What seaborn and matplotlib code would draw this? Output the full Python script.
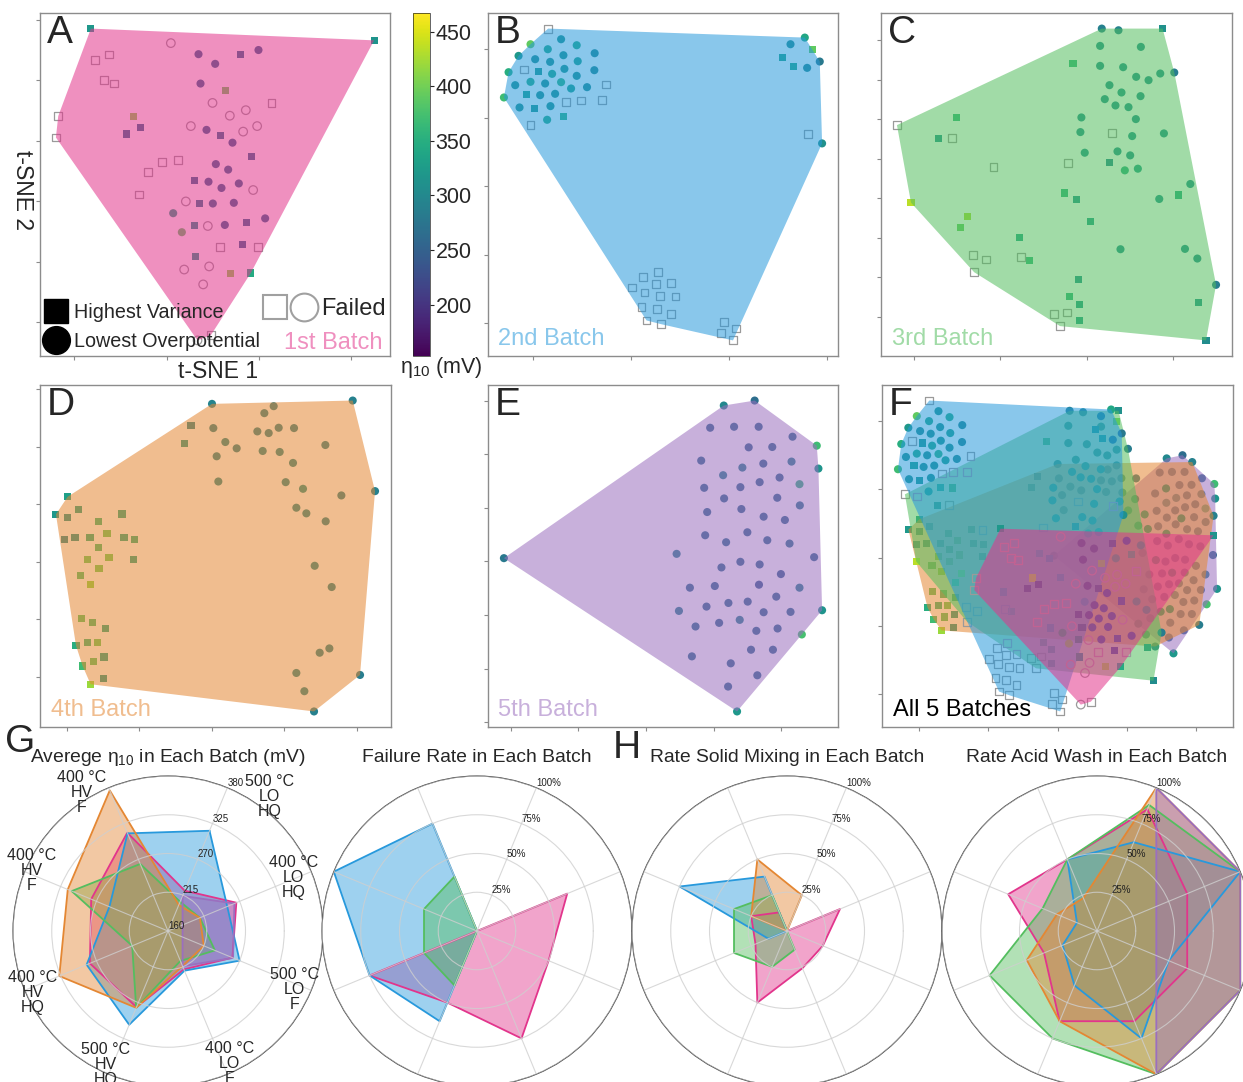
import numpy as np
import pandas as pd
import matplotlib
matplotlib.use("Agg")
import matplotlib as mpl
import matplotlib.pyplot as plt
import seaborn as sns
from matplotlib.lines import Line2D
from matplotlib.legend_handler import HandlerTuple
from matplotlib.colors import Normalize

nan = float("nan")

# ------------------------------------------------------------------ data
BATCH_NAMES = ["1st Batch", "2nd Batch", "3rd Batch", "4th Batch", "5th Batch"]
BATCH_COLORS = ["#e2358c", "#2899dc", "#54be5f", "#e48733", "#9b6fbf"]

# t-SNE extent covered by each batch (from panel F)
TSNE1_RANGE = [(-24, 45), (-46, 19), (-44, 30), (-43, 45), (-1, 46)]
TSNE2_RANGE = [(-43, 8.5), (-45, 46), (-36, 43), (-26, 28), (-28, 30)]

# positions read from panels A-E (picture units, y downwards)
# kind: s = highest variance, o = lowest overpotential, S / O = failed
B1_X = [275,1125,515,598,648,778,723,288,330,315,345,604,678,640,817,692,740,177,170,402,
        425,383,575,732,774,622,700,665,756,488,537,447,420,650,687,586,628,667,719,762,
        560,600,641,704,522,798,586,626,677,742,548,663,777,730,590,555,630,694,755,612,635,595]
B1_Y = [88,122,130,162,190,150,162,180,163,237,247,247,268,303,303,340,324,341,403,341,
        373,393,370,386,370,381,418,397,459,475,468,502,568,480,496,527,531,549,536,555,
        588,593,594,592,622,637,657,659,656,650,677,719,720,713,746,785,776,796,795,828,975,990]
B1_KIND = "ssOooosSSSSosOSOOSSsssOOOoossSSSSoosoooOOsoooosOosoSSssOOssOSO"
B1_ETA = [320,315,nan,262,265,258,270,nan,nan,nan,nan,262,395,nan,nan,nan,nan,nan,nan,410,
          268,270,nan,nan,nan,262,258,272,266,nan,nan,nan,nan,262,265,268,260,262,265,nan,
          nan,285,270,262,340,262,320,nan,262,268,385,nan,nan,262,330,nan,nan,410,345,nan,nan,nan]

B2_X = [181,220,128,267,180,92,142,227,321,187,270,108,153,62,230,193,320,128,172,220,
        267,82,356,250,298,116,157,202,48,236,280,342,95,140,188,128,178,228,953,910,
        975,885,998,918,960,962,1005,512,467,434,505,551,471,518,564,462,508,551,477,520,
        709,746,702,737]
B2_Y = [50,82,97,100,112,132,142,130,124,150,148,173,178,181,171,186,175,210,215,211,
        192,220,218,230,226,247,250,246,257,270,266,265,287,290,283,339,324,313,77,97,
        114,137,149,165,168,368,395,781,797,828,818,815,843,853,855,887,893,908,927,938,
        932,951,965,987]
B2_KIND = "Sooooooooo" + "oSsooooooo" + "ooSoosoooS" + "SSosoSosoo" + "ssosoSo" + "S" * 17
B2_ETA = [nan,315,390,345,340,320,305,315,300,310,330,nan,320,350,318,340,300,345,310,355,
          310,310,nan,330,305,330,310,310,370,nan,nan,nan,310,320,315,nan,345,355,340,305,
          390,335,280,340,300,nan,310] + [nan] * 17

B3_X = [668,718,850,663,785,582,663,732,771,808,843,885,691,727,784,677,709,748,607,770,
        55,233,178,220,604,699,759,854,617,715,753,690,737,776,344,568,933,557,593,899,
        840,97,267,244,635,421,724,917,954,283,322,426,453,286,598,1010,571,601,958,524,
        563,601,543,980]
B3_Y = [50,55,50,102,105,155,162,166,195,205,185,182,220,242,253,262,281,286,317,322,
        340,318,380,378,361,365,373,365,423,419,431,452,476,471,465,455,517,544,563,550,
        562,573,615,647,629,679,713,712,741,731,744,737,746,782,804,820,855,879,873,908,
        903,928,944,987]
B3_KIND = "oosoosoooo" + "oooooooooo" + "SssSoSoooo" + "osooSSosss" + "osssssoooS" + "SSsSsosssS" + "SsSs"
B3_ETA = [290,295,310,310,310,360,310,310,310,310,310,285,310,315,310,310,310,310,310,310,
          nan,360,315,nan,310,nan,315,310,315,310,310,300,350,330,nan,nan,310,355,315,345,
          315,435,425,390,330,340,310,310,305,nan,nan,nan,360,nan,315,285,355,325,315,nan,
          nan,330,nan,305]

B4_X = [516,938,701,673,453,520,652,686,716,762,433,556,590,668,719,856,530,759,535,737,
        789,904,1005,83,48,115,83,246,175,769,799,857,73,105,150,201,252,284,176,207,
        143,281,177,122,152,824,875,125,158,196,108,142,172,160,192,128,839,868,190,152,
        769,960,793,822]
B4_Y = [55,45,62,83,120,128,138,143,127,128,175,170,189,197,200,179,213,233,289,291,
        311,331,318,335,388,372,397,387,410,368,385,409,463,459,457,445,459,463,489,517,
        523,523,551,572,600,543,607,703,715,731,783,775,775,832,818,845,805,792,883,900,
        866,872,921,982]
B4_KIND = "oooo" + "s" + "ooooo" + "s" + "o" * 12 + "s" * 6 + "ooo" + "s" * 13 + "oo" + "s" * 9 + "oo" + "ss" + "oooo"
B4_ETA = [295,290,290,290,295,290,290,290,290,290,320,300,290,300,300,290,295,300,300,300,
          310,290,290,330,320,330,310,340,360,300,300,295,300,310,350,390,340,350,370,395,
          390,335,395,375,410,300,295,380,370,340,350,360,390,380,330,370,295,295,320,420,
          300,285,300,290]

B5_X = [712,805,671,743,817,919,992,787,858,644,768,831,916,997,710,880,940,653,762,820,
        713,873,941,662,765,832,896,656,783,719,843,910,50,570,984,705,762,820,884,610,
        685,818,940,870,577,660,726,784,832,913,1008,627,698,760,810,874,947,794,860,616,
        733,813,725,752]
B5_Y = [60,45,127,124,124,154,181,186,185,226,247,235,229,250,270,277,297,308,306,291,
        340,338,361,381,372,395,405,451,442,472,466,476,520,507,517,548,531,539,568,609,
        604,600,609,636,679,666,655,651,683,682,677,726,715,706,739,732,750,796,796,816,
        837,873,907,982]
B5_KIND = "o" * 64
B5_ETA = [300,265,260,262,260,265,370,258,262,265,290,262,290,315,295,262,355,265,262,262,
          265,262,280,265,262,262,262,265,262,270,265,275,280,290,262,265,262,262,250,265,
          262,245,290,262,290,262,265,262,262,265,315,270,262,290,262,262,375,262,262,270,
          262,262,262,320]

ETA_RANGE = (153, 467)
CBAR_TICKS = [200, 250, 300, 350, 400, 450]

# radar charts (categories clockwise from upper right); nan = category not made
RADAR_CATS = ["500 °C\nLO\nHQ", "400 °C\nLO\nHQ", "500 °C\nLO\nF", "400 °C\nLO\nF",
              "500 °C\nHV\nHQ", "400 °C\nHV\nHQ", "400 °C\nHV\nF", "400 °C\nHV\nF"]
RADAR_BATCHES = [0, 1, 2, 3, 4]
ETA_AVG = [[222, 265, 259, 219, 277, 280, 278, 311],
           [314, 251, 270, 221, 304, 285, 250, 310],
           [205, 209, 232, 206, 278, 215, 308, 263],
           [200, 209, 215, 214, 278, 327, 314, 376],
           [214, 262, 260, 214, nan, nan, nan, nan]]
FAIL_RATE = [[0, 0.63, 0.50, 0.75, 0.50, 0.75, 0, 0],
             [0, 0, 0, 0, 0.63, 0.75, 1.00, 0.75],
             [0, 0, 0, 0, 0.38, 0.37, 0.37, 0.38],
             [0, 0, 0, 0, 0, 0, 0, 0],
             [0, 0, 0, 0, nan, nan, nan, nan]]
SOLID_MIX = [[0, 0.37, 0.25, 0.26, 0.50, 0.22, 0.25, 0.13],
             [0, 0, 0, 0, 0, 0.13, 0.75, 0.38],
             [0, 0, 0, 0.13, 0.25, 0.37, 0.37, 0.25],
             [0.25, 0, 0, 0, 0, 0, 0.25, 0.50],
             [0, 0, 0, 0, nan, nan, nan, nan]]
ACID_WASH = [[0.85, 0.63, 0.63, 0.63, 0.63, 0.37, 0.62, 0.50],
             [0.62, 1.00, 0.50, 0.75, 0.38, 0.24, 0.14, 0.50],
             [0.88, 1.00, 1.00, 1.00, 0.75, 0.75, 0.38, 0.50],
             [1.00, 1.00, 1.00, 1.00, 0.63, 0.49, 0.28, 0.23],
             [1.00, 1.00, 1.00, 1.00, nan, nan, nan, nan]]

# ------------------------------------------------------------------ style
sns.set_theme(style="white")
plt.rcParams["font.family"] = ["Liberation Sans", "DejaVu Sans"]
plt.rcParams["mathtext.fontset"] = "custom"
plt.rcParams["mathtext.rm"] = "Liberation Sans"
plt.rcParams["mathtext.it"] = "Liberation Sans:italic"

W, H = 1243, 1082
fig = plt.figure(figsize=(W / 100, H / 100), dpi=100)
NORM = Normalize(*ETA_RANGE)
HULL_ALPHA = 0.55


def px_axes(x0, y0, x1, y1, **kw):
    return fig.add_axes([x0 / W, 1 - y1 / H, (x1 - x0) / W, (y1 - y0) / H], **kw)


def batch_frame(xs, ys, kinds, etas, k):
    xr = np.asarray(xs, float)
    yr = np.asarray(ys, float)
    u = (xr - xr.min()) / (xr.max() - xr.min())
    v = (yr.max() - yr) / (yr.max() - yr.min())
    lo1, hi1 = TSNE1_RANGE[k]
    lo2, hi2 = TSNE2_RANGE[k]
    return pd.DataFrame({"tsne1": lo1 + u * (hi1 - lo1), "tsne2": lo2 + v * (hi2 - lo2),
                         "kind": list(kinds), "eta": etas})


BATCHES = [batch_frame(B1_X, B1_Y, B1_KIND, B1_ETA, 0),
           batch_frame(B2_X, B2_Y, B2_KIND, B2_ETA, 1),
           batch_frame(B3_X, B3_Y, B3_KIND, B3_ETA, 2),
           batch_frame(B4_X, B4_Y, B4_KIND, B4_ETA, 3),
           batch_frame(B5_X, B5_Y, B5_KIND, B5_ETA, 4)]


def convex_hull(px, py):
    pts = sorted(set(zip(px, py)))

    def cross(o, a, b):
        return (a[0] - o[0]) * (b[1] - o[1]) - (a[1] - o[1]) * (b[0] - o[0])
    lower, upper = [], []
    for p in pts:
        while len(lower) >= 2 and cross(lower[-2], lower[-1], p) <= 0:
            lower.pop()
        lower.append(p)
    for p in reversed(pts):
        while len(upper) >= 2 and cross(upper[-2], upper[-1], p) <= 0:
            upper.pop()
        upper.append(p)
    return np.array(lower[:-1] + upper[:-1])


def draw_batch(ax, df, color, z):
    for kind, mk, size in [("s", "s", 26), ("o", "o", 34)]:
        sub = df[df["kind"] == kind]
        if len(sub):
            sns.scatterplot(data=sub, x="tsne1", y="tsne2", hue="eta", palette="viridis",
                            hue_norm=NORM, marker=mk, s=size, linewidth=0, legend=False,
                            ax=ax, zorder=z)
    for kind, mk, size in [("S", "s", 32), ("O", "o", 38)]:
        sub = df[df["kind"] == kind]
        if len(sub):
            ax.scatter(sub["tsne1"], sub["tsne2"], marker=mk, s=size, facecolors="none",
                       edgecolors="#9a9a9a", linewidths=0.9, zorder=z)
    hull = convex_hull(df["tsne1"].values, df["tsne2"].values)
    ax.fill(hull[:, 0], hull[:, 1], color=color, alpha=HULL_ALPHA, lw=0, zorder=z + 0.5)


def style_panel(ax, letter):
    ax.set_xlabel("")
    ax.set_ylabel("")
    ax.tick_params(left=True, bottom=True, labelleft=False, labelbottom=False,
                   length=3, width=0.8, color="#8c8c8c", direction="out")
    for sp in ax.spines.values():
        sp.set_color("#8c8c8c")
        sp.set_linewidth(1.0)
    ax.text(0.02, 0.995, letter, transform=ax.transAxes, ha="left", va="top",
            fontsize=28, zorder=20)


boxes = [(40, 13, 390, 356), (488, 13, 838, 356), (881, 13, 1232, 356),
         (40, 385, 391, 727), (488, 385, 838, 727)]
letters = ["A", "B", "C", "D", "E"]
axes = []
for k in range(5):
    ax = px_axes(*boxes[k])
    draw_batch(ax, BATCHES[k], BATCH_COLORS[k], 2)
    style_panel(ax, letters[k])
    axes.append(ax)
    if k > 0:
        ax.text(0.03, 0.032, BATCH_NAMES[k], transform=ax.transAxes, ha="left",
                va="baseline", fontsize=17, color=BATCH_COLORS[k], alpha=HULL_ALPHA, zorder=20)

# panel F : all batches together
axF = px_axes(882, 385, 1233, 727)
for k in [4, 3, 2, 1, 0]:
    draw_batch(axF, BATCHES[k], BATCH_COLORS[k], 2 + 2 * (4 - k))
style_panel(axF, "F")
axF.text(0.03, 0.032, "All 5 Batches", transform=axF.transAxes, ha="left",
         va="baseline", fontsize=17, color="black", zorder=30)

# panel A annotations
axA = axes[0]
axA.text(0.98, 0.02, BATCH_NAMES[0], transform=axA.transAxes, ha="right", va="baseline",
         fontsize=17, color=BATCH_COLORS[0], alpha=HULL_ALPHA, zorder=20)
h_sq = Line2D([], [], marker="s", color="black", ls="", ms=17.5)
h_ci = Line2D([], [], marker="o", color="black", ls="", ms=20)
leg1 = axA.legend([h_sq, h_ci], ["Highest Variance", "Lowest Overpotential"],
                  loc="lower left", bbox_to_anchor=(0.005, 0.002), frameon=False,
                  fontsize=14.2, handlelength=1.0, handletextpad=0.45, labelspacing=0.55,
                  borderpad=0.2, borderaxespad=0.0)
axA.add_artist(leg1)
f_sq = Line2D([], [], marker="s", mfc="white", mec="#a0a0a0", mew=1.5, ls="", ms=17.5)
f_ci = Line2D([], [], marker="o", mfc="white", mec="#a0a0a0", mew=1.5, ls="", ms=20)
axA.legend([(f_sq, f_ci)], ["Failed"], handler_map={tuple: HandlerTuple(ndivide=None, pad=0.15)},
           loc="lower right", bbox_to_anchor=(1.0, 0.09), frameon=False, fontsize=17,
           handlelength=2.3, handletextpad=0.15, borderpad=0.2, borderaxespad=0.0)
fig.text(22 / W, 1 - 190 / H, "t-SNE 2", rotation=270, ha="center", va="center", fontsize=16.5)
fig.text(218 / W, 1 - 371 / H, "t-SNE 1", ha="center", va="center", fontsize=16.5)

# colorbar
cax = px_axes(413, 13, 430, 356)
cb = fig.colorbar(mpl.cm.ScalarMappable(norm=NORM, cmap="viridis"), cax=cax, ticks=CBAR_TICKS)
cb.outline.set_linewidth(0.5)
cax.tick_params(labelsize=15.5, length=3, width=0.8, right=True, pad=1)
fig.text(441 / W, 1 - 368 / H, "η$_{10}$ (mV)", ha="center", va="center", fontsize=15.5)

# ------------------------------------------------------------------ radar charts
THETA = np.deg2rad(np.mod(67.5 - 45 * np.arange(len(RADAR_CATS)), 360))


def radar(cx, series, rlim, rticks, rlabels, title):
    R = 155
    ax = px_axes(cx - R, 931 - R, cx + R, 931 + R, projection="polar")
    for vals, b in zip(series, RADAR_BATCHES):
        vals = np.asarray(vals, float)
        ok = ~np.isnan(vals)
        t = np.append(THETA[ok], THETA[ok][0])
        v = np.append(vals[ok], vals[ok][0])
        ax.fill(t, v, color=BATCH_COLORS[b], alpha=0.45, lw=0)
        ax.plot(t, v, color=BATCH_COLORS[b], lw=1.3)
    ax.set_thetalim(0, 2 * np.pi)
    ax.set_xticks(THETA)
    ax.set_xticklabels([])
    ax.set_ylim(*rlim)
    ax.set_yticks(rticks)
    ax.set_yticklabels(rlabels)
    ax.tick_params(axis="y", labelsize=7, labelcolor="#222222", pad=0)
    ax.set_rlabel_position(67.5)
    ax.set_axisbelow(False)
    ax.grid(color="#cfcfcf", lw=0.8, alpha=0.8)
    ax.spines["polar"].set_color("#444444")
    ax.spines["polar"].set_linewidth(0.8)
    ax.set_facecolor("white")
    fig.text(cx / W, 1 - 758 / H, title, ha="center", va="center", fontsize=13.9)
    return ax


axG = radar(168, ETA_AVG, (160, 380), [160, 215, 270, 325, 380],
            ["160", "215", "270", "325", "380"], "Averege η$_{10}$ in Each Batch (mV)")
pct = ["25%", "50%", "75%", "100%"]
radar(477, FAIL_RATE, (0, 1), [0.25, 0.5, 0.75, 1.0], pct, "Failure Rate in Each Batch")
radar(787, SOLID_MIX, (0, 1), [0.25, 0.5, 0.75, 1.0], pct, "Rate Solid Mixing in Each Batch")
radar(1097, ACID_WASH, (0, 1), [0.25, 0.5, 0.75, 1.0], pct, "Rate Acid Wash in Each Batch")

# category labels of chart G (angle in degrees, distance as fraction of radius)
LABEL_LAYOUT = [(53, 1.09), (23, 0.88), (-25, 0.90), (-65, 0.94),
                (-115, 0.95), (-155.5, 0.96), (156, 0.96), (122, 1.05)]
for lab, (ang, f) in zip(RADAR_CATS, LABEL_LAYOUT):
    a = np.deg2rad(ang)
    axG.text(0.5 + 0.5 * f * np.cos(a), 0.5 + 0.5 * f * np.sin(a), lab,
             transform=axG.transAxes, ha="center", va="center", fontsize=11.5,
             linespacing=1.0, clip_on=False, zorder=30)

fig.text(5 / W, 1 - 742 / H, "G", ha="left", va="center", fontsize=28)
fig.text(613 / W, 1 - 748 / H, "H", ha="left", va="center", fontsize=28)

fig.savefig("out.png", dpi=100)
